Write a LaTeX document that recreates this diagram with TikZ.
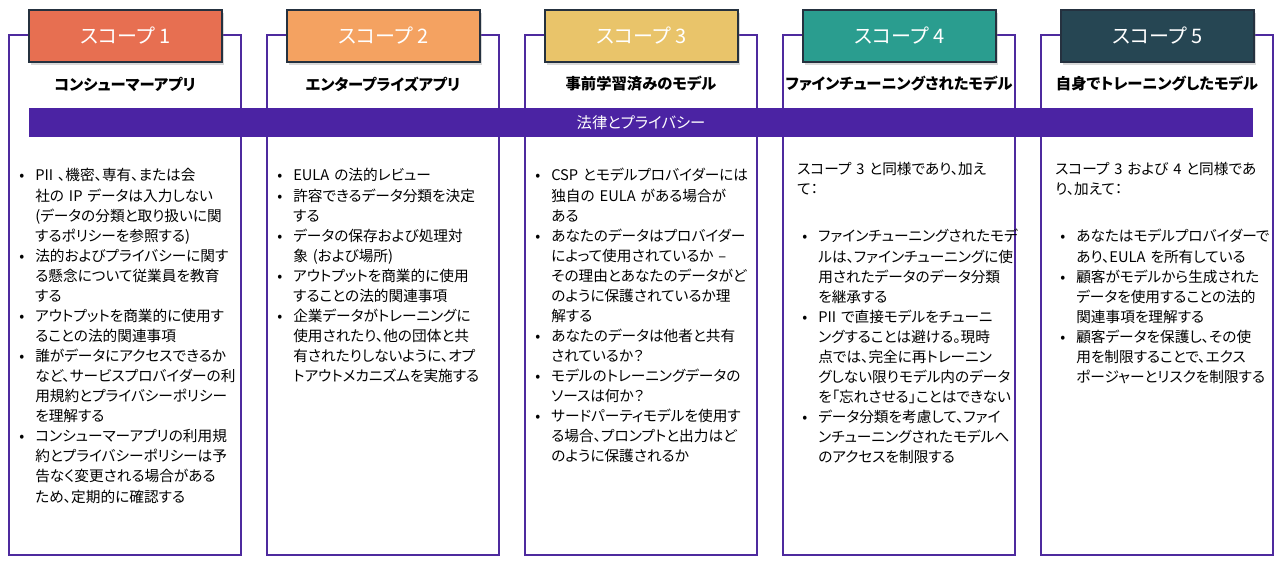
\documentclass[tikz,border=0pt]{standalone}
\usepackage{fontspec}
\setmainfont{Noto Sans CJK JP}[RawFeature=+palt]
\usetikzlibrary{shadows}
\definecolor{cA}{HTML}{E76F51}
\definecolor{cB}{HTML}{F4A261}
\definecolor{cC}{HTML}{E9C46A}
\definecolor{cD}{HTML}{2A9D8F}
\definecolor{cE}{HTML}{264653}
\definecolor{frame}{HTML}{4E2A9E}
\definecolor{barc}{HTML}{4B23A3}
\definecolor{hdrb}{HTML}{25313F}
\newlength{\bind}
\setlength{\bind}{12pt}
\newcommand{\bitem}[1]{\par\noindent\hangindent=\bind\hangafter=1\makebox[\bind][l]{•}\strut#1\par}
\tikzset{
  frm/.style={draw=frame, line width=1.5pt, minimum width=174pt, minimum height=390pt, inner sep=0pt},
  hdr/.style={draw=hdrb, line width=0.9pt, minimum width=144.75pt, minimum height=39pt, inner sep=0pt,
    text=white, font=\fontsize{15}{17}\selectfont,
    drop shadow={shadow xshift=1.5pt, shadow yshift=-2pt, opacity=0.3}},
  ttl/.style={font=\bfseries\fontsize{11.5}{14}\selectfont, inner sep=0pt},
  body/.style={anchor=north west, inner sep=0pt, text width=180pt, align=left, font=\fontsize{11}{15.05}\selectfont},
}
\begin{document}
\begin{tikzpicture}[x=0.75pt,y=-0.75pt]
\useasboundingbox (0,0) rectangle (1282,568);
% frames
\node[frm] (f1) at (125,295) {};
\node[frm] (f2) at (383,295) {};
\node[frm] (f3) at (641,295) {};
\node[frm] (f4) at (899,295) {};
\node[frm] (f5) at (1157,295) {};
% headers
\node[hdr, fill=cA] (h1) at (125.5,36) {スコープ 1};
\node[hdr, fill=cB] (h2) at (383.5,36) {スコープ 2};
\node[hdr, fill=cC] (h3) at (641.5,36) {スコープ 3};
\node[hdr, fill=cD] (h4) at (899.5,36) {スコープ 4};
\node[hdr, fill=cE] (h5) at (1157.5,36) {スコープ 5};
% titles
\node[ttl] (t1) at (125,84) {コンシューマーアプリ};
\node[ttl] (t2) at (383,84) {エンタープライズアプリ};
\node[ttl] (t3) at (641,84) {事前学習済みのモデル};
\node[ttl] (t4) at (899,84) {ファインチューニングされたモデル};
\node[ttl] (t5) at (1157,84) {自身でトレーニングしたモデル};
% bar
\node[fill=barc, minimum width=918pt, minimum height=21.75pt, inner sep=0pt, text=white,
  font=\fontsize{11.5}{13}\selectfont] (bar) at (641,122.5) {法律とプライバシー};
% column 1
\node[body] (b1) at (19,160.6) {%
\bitem{PII 、機密、専有、または会\newline 社の IP データは入力しない\newline (データの分類と取り扱いに関\newline するポリシーを参照する)}
\bitem{法的およびプライバシーに関す\newline る懸念について従業員を教育\newline する}
\bitem{アウトプットを商業的に使用す\newline ることの法的関連事項}
\bitem{誰がデータにアクセスできるか\newline など、サービスプロバイダーの利\newline 用規約とプライバシーポリシー\newline を理解する}
\bitem{コンシューマーアプリの利用規\newline 約とプライバシーポリシーは予\newline 告なく変更される場合がある\newline ため、定期的に確認する}};
% column 2
\node[body] (b2) at (277,160.6) {%
\bitem{EULA の法的レビュー}
\bitem{許容できるデータ分類を決定\newline する}
\bitem{データの保存および処理対\newline 象 (および場所)}
\bitem{アウトプットを商業的に使用\newline することの法的関連事項}
\bitem{企業データがトレーニングに\newline 使用されたり、他の団体と共\newline 有されたりしないように、オプ\newline トアウトメカニズムを実施する}};
% column 3
\node[body] (b3) at (535,160.6) {%
\bitem{CSP とモデルプロバイダーには\newline 独自の EULA がある場合が\newline ある}
\bitem{あなたのデータはプロバイダー\newline によって使用されているか –\newline その理由とあなたのデータがど\newline のように保護されているか理\newline 解する}
\bitem{あなたのデータは他者と共有\newline されているか？}
\bitem{モデルのトレーニングデータの\newline ソースは何か？}
\bitem{サードパーティモデルを使用す\newline る場合、プロンプトと出力はど\newline のように保護されるか}};
% column 4
\node[body] (i4) at (797,160.6) {\strut スコープ 3 と同様であり、加え\newline て：};
\node[body] (b4) at (802,221.6) {%
\bitem{ファインチューニングされたモデ\newline ルは、ファインチューニングに使\newline 用されたデータのデータ分類\newline を継承する}
\bitem{PII で直接モデルをチューニ\newline ングすることは避ける。現時\newline 点では、完全に再トレーニン\newline グしない限りモデル内のデータ\newline を「忘れさせる」ことはできない}
\bitem{データ分類を考慮して、ファイ\newline ンチューニングされたモデルへ\newline のアクセスを制限する}};
% column 5
\node[body] (i5) at (1055,160.6) {\strut スコープ 3 および 4 と同様であ\newline り、加えて：};
\node[body] (b5) at (1060,221.6) {%
\bitem{あなたはモデルプロバイダーで\newline あり、EULA を所有している}
\bitem{顧客がモデルから生成された\newline データを使用することの法的\newline 関連事項を理解する}
\bitem{顧客データを保護し、その使\newline 用を制限することで、エクス\newline ポージャーとリスクを制限する}};
\end{tikzpicture}
\end{document}
